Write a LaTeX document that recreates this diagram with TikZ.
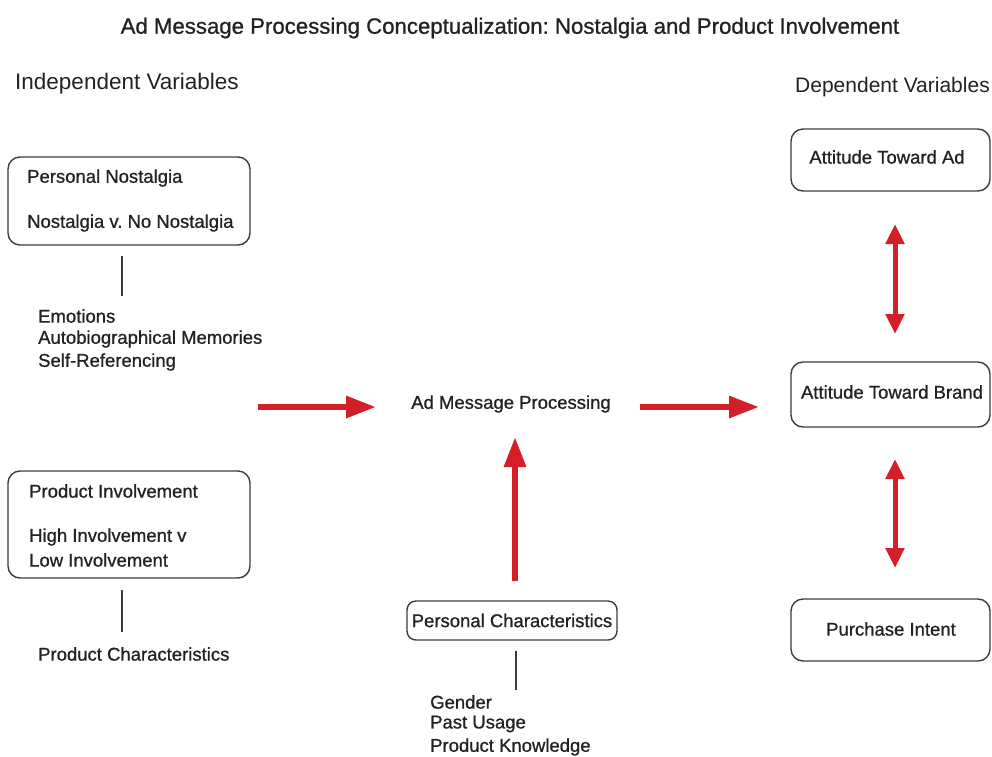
\documentclass[tikz,border=0pt]{standalone}
\usepackage{fontspec}
\setmainfont{Liberation Sans}
\newfontfamily\medfont[FakeBold=0.9]{Liberation Sans}
\frenchspacing
\usetikzlibrary{arrows.meta}
\definecolor{arrowred}{RGB}{212,30,40}
\definecolor{ink}{RGB}{34,34,34}
\definecolor{edge}{RGB}{60,60,60}
\tikzset{
  box/.style={draw=edge, line width=1.4pt, rounded corners=12pt, inner sep=0pt},
  lbl/.style={text=ink, inner sep=0pt, font=\medfont\fontsize{18.5}{22}\selectfont},
  head/.style={text=ink, inner sep=0pt},
  ttl/.style={text=ink, inner sep=0pt, font=\medfont\fontsize{22.2}{26}\selectfont},
  tie/.style={draw=edge, line width=1.3pt},
  flow/.style={draw=arrowred, line width=6pt, -{Triangle[length=30pt,width=21pt]}},
  twoway/.style={draw=arrowred, line width=5pt, {Triangle[length=20pt,width=18pt]}-{Triangle[length=20pt,width=18pt]}}
}
\begin{document}
\begin{tikzpicture}[x=1pt,y=-1pt]
\useasboundingbox (0,0) rectangle (992,756);

% title and column headings
\node[ttl] (title) at (510,28) {Ad Message Processing Conceptualization: Nostalgia and Product Involvement};
\node[head, anchor=west, font=\fontsize{22.5}{26}\selectfont] (indep) at (15,84) {Independent Variables};
\node[head, anchor=west, font=\fontsize{21}{25}\selectfont] (dep) at (795,87) {Dependent Variables};

% personal nostalgia
\node[box, minimum width=242pt, minimum height=88pt] (pn) at (129,201) {};
\node[lbl, anchor=west] (pnA) at (27,178) {Personal Nostalgia};
\node[lbl, anchor=west] (pnB) at (27,223) {Nostalgia v. No Nostalgia};
\coordinate (pnT1) at (122,256);
\coordinate (pnT2) at (122,296);
\draw[tie] (pnT1) -- (pnT2);
\node[lbl, anchor=west] (emo) at (38,316) {Emotions};
\node[lbl, anchor=west] (abm) at (38,339) {Autobiographical Memories};
\node[lbl, anchor=west] (sr) at (38,362) {Self-Referencing};

% product involvement
\node[box, minimum width=242pt, minimum height=107pt] (pi) at (129,524.5) {};
\node[lbl, anchor=west] (piA) at (29,491) {Product Involvement};
\node[lbl, anchor=west] (piB) at (29,537) {High Involvement v};
\node[lbl, anchor=west] (piC) at (29,560) {Low Involvement};
\coordinate (piT1) at (122,590);
\coordinate (piT2) at (122,632);
\draw[tie] (piT1) -- (piT2);
\node[lbl, anchor=west] (pch) at (38,654) {Product Characteristics};

% central process
\node[lbl] (amp) at (511,404) {Ad Message Processing};
\coordinate (inL) at (258,407);
\coordinate (inR) at (376,407);
\coordinate (outL) at (640,407);
\coordinate (outR) at (759,407);
\draw[flow] (inL) -- (inR);
\draw[flow] (outL) -- (outR);

% personal characteristics
\node[box, minimum width=210pt, minimum height=39pt, rounded corners=9pt] (pc) at (512,620.5) {};
\node[lbl] (pcA) at (512,620.5) {Personal Characteristics};
\coordinate (upB) at (515,581);
\coordinate (upT) at (515,437);
\draw[flow] (upB) -- (upT);
\coordinate (pcT1) at (516,651);
\coordinate (pcT2) at (516,690);
\draw[tie] (pcT1) -- (pcT2);
\node[lbl, anchor=west] (gen) at (430,702) {Gender};
\node[lbl, anchor=west] (pu) at (430,724) {Past Usage};
\node[lbl, anchor=west] (pk) at (430,747) {Product Knowledge};

% dependent variables
\node[box, minimum width=199pt, minimum height=62pt] (ata) at (890.5,160) {};
\node[lbl] (ataT) at (887,157) {Attitude Toward Ad};
\node[box, minimum width=199pt, minimum height=65pt] (atb) at (890.5,394.5) {};
\node[lbl] (atbT) at (892,392) {Attitude Toward Brand};
\node[box, minimum width=199pt, minimum height=62pt] (pint) at (890.5,630) {};
\node[lbl] (pintT) at (891,629) {Purchase Intent};

\coordinate (d1T) at (895,224);
\coordinate (d1B) at (895,334);
\coordinate (d2T) at (895,459);
\coordinate (d2B) at (895,568);
\draw[twoway] (d1T) -- (d1B);
\draw[twoway] (d2T) -- (d2B);
\end{tikzpicture}
\end{document}
